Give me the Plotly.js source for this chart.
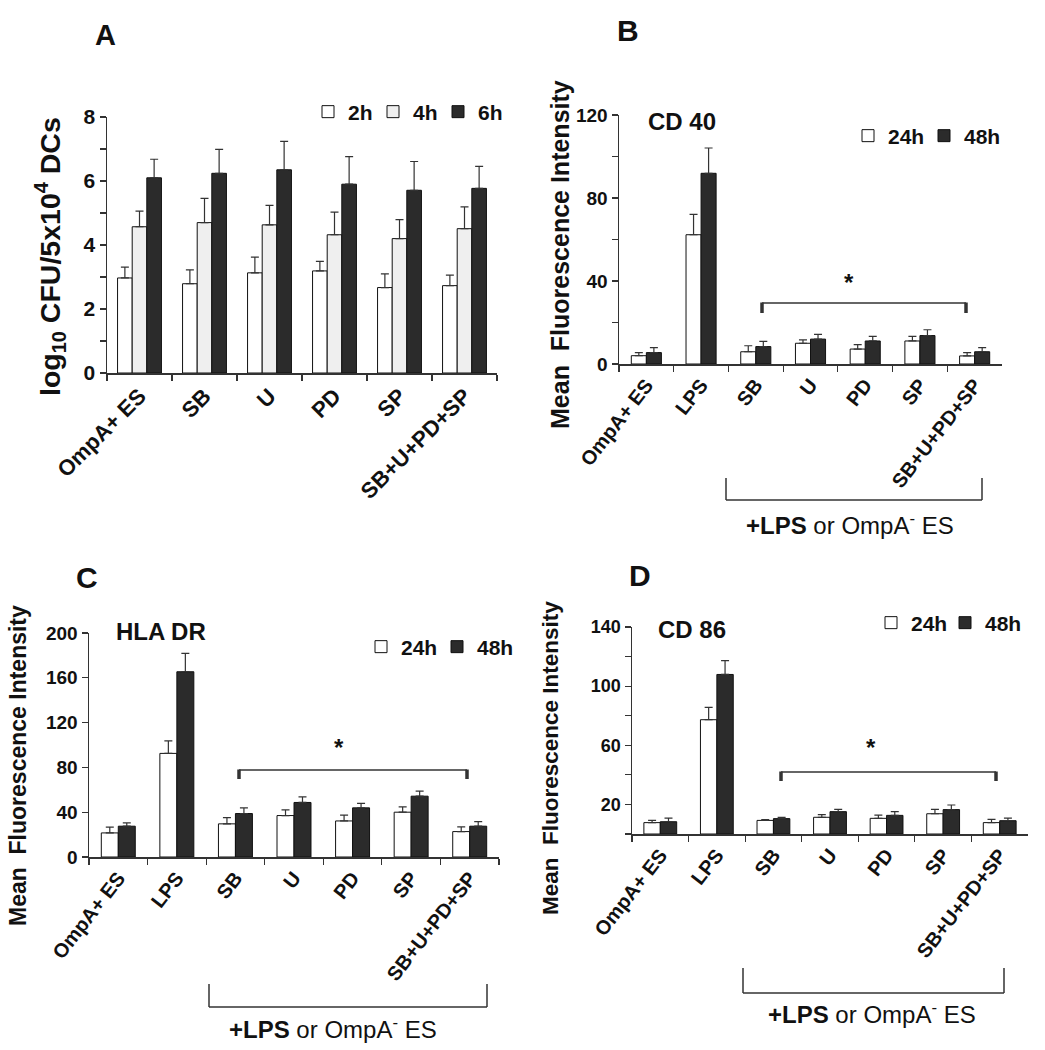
<!DOCTYPE html>
<html>
<head>
<meta charset="utf-8">
<script src="https://cdn.plot.ly/plotly-3.0.1.min.js"></script>
<style>html,body{margin:0;padding:0;background:#fff;}#chart{width:1045px;height:1050px;}</style>
</head>
<body>
<div id="chart"></div>
<script>
// ---------- data ----------
const catsA = ['OmpA+ ES', 'SB', 'U', 'PD', 'SP', 'SB+U+PD+SP'];
const catsBCD = ['OmpA+ ES', 'LPS', 'SB', 'U', 'PD', 'SP', 'SB+U+PD+SP'];

// Panel A: log10 CFU / 5x10^4 DCs
const a2h = [2.97, 2.79, 3.13, 3.19, 2.67, 2.73];
const a2hErr = [0.34, 0.43, 0.49, 0.30, 0.43, 0.33];
const a4h = [4.57, 4.70, 4.63, 4.32, 4.20, 4.51];
const a4hErr = [0.49, 0.76, 0.61, 0.71, 0.59, 0.68];
const a6h = [6.10, 6.24, 6.35, 5.90, 5.71, 5.77];
const a6hErr = [0.58, 0.75, 0.89, 0.86, 0.90, 0.69];

// Panel B: CD 40
const cd40_24 = [4.0, 62.3, 5.9, 10.0, 7.2, 11.1, 3.9];
const cd40_24Err = [1.5, 9.8, 2.9, 1.6, 2.1, 2.2, 1.6];
const cd40_48 = [5.5, 91.9, 8.4, 12.0, 11.1, 13.7, 5.9];
const cd40_48Err = [2.4, 12.2, 2.5, 2.3, 2.2, 2.8, 2.0];

// Panel C: HLA DR
const hla_24 = [21.5, 92.5, 29.6, 37.0, 32.2, 40.0, 22.7];
const hla_24Err = [5.1, 11.1, 5.6, 5.1, 5.1, 4.8, 4.2];
const hla_48 = [27.5, 165.4, 38.8, 48.7, 43.9, 54.3, 27.5];
const hla_48Err = [2.9, 16.4, 5.1, 5.0, 3.9, 4.5, 4.1];

// Panel D: CD 86
const cd86_24 = [7.7, 77.3, 9.2, 11.3, 10.6, 13.7, 7.7];
const cd86_24Err = [1.5, 8.3, 0.5, 1.8, 2.2, 3.0, 2.2];
const cd86_48 = [8.3, 107.9, 10.4, 15.1, 12.6, 16.5, 9.0];
const cd86_48Err = [2.5, 9.3, 0.9, 1.6, 2.5, 3.1, 1.8];

// tick labels (major labelled ticks; unlabelled minor marks between them)
const tickValsA = [0, 2, 4, 6, 8];
const tickTextA = ['0', '2', '4', '6', '8'];
const tickValsB = [0, 40, 80, 120];
const tickTextB = ['0', '40', '80', '120'];
const tickValsC = [0, 40, 80, 120, 160, 200];
const tickTextC = ['0', '40', '80', '120', '160', '200'];
const tickValsD = [20, 60, 100, 140];
const tickTextD = ['20', '60', '100', '140'];

// ---------- layout helpers ----------
const W = 1045, H = 1050;
const px = x => x / W;
const py = y => 1 - y / H;
const FONT = 'Arial, "Liberation Sans", sans-serif';
const WHITE = '#ffffff', LIGHT = '#efefef', DARK = '#2b2b2b';

function zeros(n) { return new Array(n).fill(0); }

function barTrace(name, cats, vals, errs, color, xa, ya, leg, width, offset) {
  return {
    type: 'bar', name: name, x: cats, y: vals,
    xaxis: xa, yaxis: ya, legend: leg,
    width: width, offset: offset,
    marker: { color: color, line: { color: '#111', width: 1 } },
    error_y: { type: 'data', symmetric: false, array: errs, arrayminus: zeros(errs.length),
      thickness: 1.2, width: 4, color: '#333' },
    hoverinfo: 'skip'
  };
}

const wA = 0.225, wB = 0.275, wC = 0.29, wD = 0.29;
const data = [
  barTrace('2h', catsA, a2h, a2hErr, WHITE, 'x', 'y', 'legend', wA, -1.5 * wA),
  barTrace('4h', catsA, a4h, a4hErr, LIGHT, 'x', 'y', 'legend2', wA, -0.5 * wA),
  barTrace('6h', catsA, a6h, a6hErr, DARK, 'x', 'y', 'legend3', wA, 0.5 * wA),
  barTrace('24h', catsBCD, cd40_24, cd40_24Err, WHITE, 'x2', 'y2', 'legend4', wB, -wB),
  barTrace('48h', catsBCD, cd40_48, cd40_48Err, DARK, 'x2', 'y2', 'legend5', wB, 0),
  barTrace('24h', catsBCD, hla_24, hla_24Err, WHITE, 'x3', 'y3', 'legend6', wC, -wC),
  barTrace('48h', catsBCD, hla_48, hla_48Err, DARK, 'x3', 'y3', 'legend7', wC, 0),
  barTrace('24h', catsBCD, cd86_24, cd86_24Err, WHITE, 'x4', 'y4', 'legend8', wD, -wD),
  barTrace('48h', catsBCD, cd86_48, cd86_48Err, DARK, 'x4', 'y4', 'legend9', wD, 0)
];

function xAxis(domain, anchor, size, angle) {
  return {
    domain: domain, anchor: anchor, type: 'category',
    showline: true, linecolor: '#333', linewidth: 1.5,
    ticks: 'outside', tickson: 'boundaries', ticklen: 6, tickcolor: '#333', tickwidth: 1.2,
    tickangle: angle,
    showgrid: false, zeroline: false, fixedrange: true,
    tickfont: { family: FONT, size: size, color: '#111', weight: 'bold' }
  };
}
function yAxis(domain, anchor, range, vals, text, size, minorStep) {
  return {
    domain: domain, anchor: anchor, range: range,
    tickmode: 'array', tickvals: vals, ticktext: text,
    showline: true, linecolor: '#333', linewidth: 1.5,
    ticks: 'outside', ticklen: 6, tickcolor: '#333', tickwidth: 1.2,
    minor: { ticks: 'outside', tickmode: 'linear', tick0: 0, dtick: minorStep, ticklen: 6, tickcolor: '#333', tickwidth: 1.2, showgrid: false },
    showgrid: false, zeroline: false, fixedrange: true,
    tickfont: { family: FONT, size: size, color: '#111', weight: 'bold' }
  };
}

// legend placed so that its swatch is centred near (cx, cy)
function legendAt(cx, cy, size) {
  return {
    orientation: 'h', x: px(cx - 18), y: py(cy), xanchor: 'left', yanchor: 'middle',
    bgcolor: 'rgba(0,0,0,0)', borderwidth: 0,
    font: { family: FONT, size: size, color: '#111', weight: 'bold' },
    itemwidth: 30, traceorder: 'normal'
  };
}

function ann(text, x, y, size, opts) {
  return Object.assign({
    text: text, x: px(x), y: py(y), xref: 'paper', yref: 'paper',
    showarrow: false, xanchor: 'center', yanchor: 'middle',
    font: { family: FONT, size: size, color: '#111', weight: 'bold' }
  }, opts || {});
}

function line(x0, y0, x1, y1, w) {
  return { type: 'line', xref: 'paper', yref: 'paper', x0: px(x0), y0: py(y0), x1: px(x1), y1: py(y1),
    line: { color: '#333', width: w || 1.5 } };
}
function bracketDown(x0, x1, y, drop) {
  return [line(x0, y, x1, y, 1.5), line(x0, y - 0.5, x0, y + drop, 3.5), line(x1, y - 0.5, x1, y + drop, 3.5)];
}
function bracketUp(x0, x1, yTop, yBot) {
  return [line(x0, yTop, x0, yBot, 1.5), line(x1, yTop, x1, yBot, 1.5), line(x0, yBot, x1, yBot, 1.5)];
}

const yTitle = 'Mean&nbsp;&nbsp;Fluorescence Intensity';
const groupLabel = '<b>+LPS</b> or OmpA<sup>-</sup> ES';
const normalFont = s => ({ font: { family: FONT, size: s, color: '#111', weight: 'normal' } });

const layout = {
  width: W, height: H,
  margin: { l: 0, r: 0, t: 0, b: 0 },
  paper_bgcolor: '#fff', plot_bgcolor: 'rgba(0,0,0,0)',
  barmode: 'overlay',
  showlegend: true,
  font: { family: FONT, color: '#111' },
  xaxis: xAxis([px(107), px(497)], 'y', 22, -45),
  yaxis: yAxis([py(373), py(117)], 'x', [0, 8], tickValsA, tickTextA, 21, 1),
  xaxis2: xAxis([px(619), px(1002)], 'y2', 20, -52),
  yaxis2: yAxis([py(364), py(115)], 'x2', [0, 120], tickValsB, tickTextB, 19, 20),
  xaxis3: xAxis([px(89), px(499)], 'y3', 20, -52),
  yaxis3: yAxis([py(857), py(633)], 'x3', [0, 200], tickValsC, tickTextC, 19, 40),
  xaxis4: xAxis([px(632), px(1028)], 'y4', 20, -52),
  yaxis4: yAxis([py(834), py(627)], 'x4', [0, 140], tickValsD, tickTextD, 18, 20),
  legend: legendAt(326, 112, 21),
  legend2: legendAt(391, 112, 21),
  legend3: legendAt(456, 112, 21),
  legend4: legendAt(866, 136, 21),
  legend5: legendAt(942, 136, 21),
  legend6: legendAt(379, 647, 21),
  legend7: legendAt(455, 647, 21),
  legend8: legendAt(889, 623, 21),
  legend9: legendAt(963, 623, 21),
  annotations: [
    ann('A', 105, 35, 29),
    ann('B', 628, 30, 30),
    ann('C', 87, 577, 30),
    ann('D', 640, 575, 30),
    ann('log<sub>10</sub> CFU/5x10<sup>4</sup> DCs', 50, 257, 28.5, { textangle: -90 }),
    ann(yTitle, 560, 255, 25, { textangle: -90 }),
    ann(yTitle, 18, 766, 23, { textangle: -90 }),
    ann(yTitle, 550, 758, 22.5, { textangle: -90 }),
    ann('CD 40', 682, 122, 24),
    ann('HLA DR', 161, 631, 24),
    ann('CD 86', 692, 629, 24),
    ann('*', 849, 282, 24),
    ann('*', 339, 747, 24),
    ann('*', 871, 747, 24),
    ann(groupLabel, 850, 524, 24, normalFont(24)),
    ann(groupLabel, 333, 1028, 24, normalFont(24)),
    ann(groupLabel, 872, 1013, 24, normalFont(24))
  ],
  shapes: [].concat(
    bracketDown(762, 966, 303, 10),
    bracketDown(239, 467, 770, 9),
    bracketDown(781, 996, 772, 9),
    bracketUp(726, 982, 478, 500),
    bracketUp(209, 487, 984, 1007),
    bracketUp(743, 1004, 968, 993)
  )
};

Plotly.newPlot('chart', data, layout, { displayModeBar: false, staticPlot: true });
</script>
</body>
</html>
